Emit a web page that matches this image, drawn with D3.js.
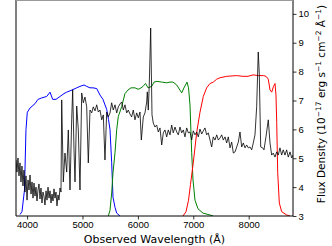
<!DOCTYPE html>
<html lang="en">
<head>
  <meta charset="UTF-8" />
  <title>Spectrum with filter curves</title>
  <script src="https://d3js.org/d3.v7.min.js"></script>
  <style>
    body { margin: 0; background: #fff; }
    svg { display: block; font-family: 'DejaVu Sans', sans-serif; }
    .tick text { fill: #000; }
  </style>
</head>
<body>
<div id="chart"></div>
<script>
// wavelength (Å) / flux (1e-17 erg s^-1 cm^-2 Å^-1)
const spectrum = [
  [3800,4.94],[3818,4.52],[3836,5.01],[3854,4.39],[3872,4.84],[3890,4.18],[3908,4.73],[3926,4.04],
  [3944,4.59],[3962,3.83],[3980,4.39],[3999,3.55],[4017,4.25],[4035,3.90],[4053,4.42],[4071,3.76],
  [4089,4.18],[4107,3.62],[4125,4.14],[4143,3.69],[4161,4.00],[4179,3.52],[4197,3.90],[4215,4.11],
  [4233,3.59],[4251,3.97],[4269,3.45],[4287,3.83],[4305,3.69],[4323,3.38],[4342,3.87],[4360,3.55],
  [4378,4.00],[4396,3.62],[4414,3.87],[4432,3.45],[4450,3.76],[4468,3.52],[4486,3.94],[4504,3.62],
  [4522,3.83],[4540,3.35],[4558,3.73],[4576,3.55],[4594,3.97],[4612,3.83],[4625,7.02],[4654,4.18],
  [4684,5.18],[4715,4.52],[4744,5.98],[4775,3.90],[4805,6.33],[4823,7.37],[4847,5.29],[4865,4.18],
  [4896,6.81],[4925,5.98],[4955,3.90],[4986,7.26],[5015,6.92],[5045,7.12],[5076,6.78],[5105,4.84],
  [5136,6.67],[5166,6.57],[5195,6.78],[5226,6.64],[5257,6.85],[5286,6.60],[5316,6.67],[5347,6.33],
  [5376,6.50],[5406,4.94],[5437,6.60],[5466,6.43],[5497,6.57],[5527,6.92],[5556,6.67],[5587,6.85],
  [5618,6.57],[5647,6.78],[5677,6.88],[5708,6.95],[5737,6.67],[5767,6.85],[5798,6.57],[5827,6.67],
  [5858,6.53],[5887,6.43],[5917,6.67],[5948,6.33],[5979,6.57],[6008,6.40],[6038,6.60],[6062,5.63],
  [6098,6.43],[6128,6.57],[6159,6.95],[6170,7.30],[6188,6.67],[6206,7.57],[6231,9.51],[6255,6.50],
  [6278,6.22],[6309,6.08],[6340,6.15],[6368,5.91],[6399,6.05],[6430,5.46],[6459,5.88],[6489,5.98],
  [6520,5.74],[6549,5.98],[6580,5.81],[6610,6.15],[6639,5.88],[6670,6.08],[6701,5.91],[6730,5.81],
  [6760,6.08],[6791,5.88],[6820,5.98],[6850,5.74],[6881,6.05],[6910,5.88],[6941,5.91],[6971,5.63],
  [7000,5.95],[7031,5.81],[7062,5.91],[7091,5.74],[7121,6.01],[7152,5.84],[7181,5.95],[7211,6.05],
  [7242,5.81],[7271,5.88],[7302,5.63],[7332,5.39],[7361,5.74],[7392,5.63],[7423,5.81],[7452,5.63],
  [7482,5.70],[7513,5.81],[7542,5.63],[7573,5.74],[7603,5.53],[7632,5.74],[7663,5.36],[7693,5.56],
  [7723,5.18],[7754,5.22],[7784,5.39],[7813,5.56],[7843,5.91],[7874,5.39],[7903,5.53],[7934,5.36],
  [7964,5.46],[7993,5.36],[8024,5.39],[8054,5.29],[8083,5.53],[8114,5.81],[8144,6.78],[8173,8.68],
  [8191,7.95],[8217,5.39],[8253,5.36],[8276,5.29],[8312,5.74],[8354,6.33],[8385,5.53],[8415,5.11],
  [8444,5.18],[8475,5.04],[8506,5.22],[8534,5.11],[8565,5.36],[8595,5.11],[8624,5.29],[8655,5.11],
  [8685,5.29],[8715,5.04],[8746,5.22],[8777,5.01],[8800,5.11]
];

// filter transmission curves (arbitrary units)
const blueFilter = [
  [3872,0.01],[3908,0.03],[3953,0.18],[3980,0.60],[4004,0.72],[4053,0.75],[4143,0.78],[4197,0.81],
  [4264,0.82],[4354,0.83],[4414,0.86],[4462,0.81],[4522,0.81],[4594,0.83],[4666,0.85],[4715,0.86],
  [4811,0.875],[4896,0.89],[4955,0.90],[5027,0.91],[5076,0.90],[5136,0.89],[5190,0.89],[5257,0.885],
  [5316,0.84],[5370,0.81],[5437,0.74],[5470,0.67],[5497,0.60],[5527,0.37],[5551,0.13],[5587,0.06],
  [5618,0.02],[5677,0.0]
];
const greenFilter = [
  [5466,0.0],[5497,0.04],[5527,0.16],[5551,0.30],[5587,0.44],[5618,0.60],[5646,0.69],[5708,0.76],
  [5767,0.85],[5822,0.875],[5876,0.89],[5948,0.89],[6002,0.88],[6038,0.885],[6092,0.90],[6138,0.92],
  [6183,0.89],[6249,0.90],[6291,0.93],[6345,0.935],[6430,0.93],[6520,0.925],[6580,0.93],[6634,0.93],
  [6701,0.91],[6791,0.855],[6832,0.89],[6887,0.93],[6914,0.89],[6941,0.77],[6971,0.44],[6995,0.25],
  [7031,0.11],[7085,0.05],[7175,0.02],[7302,0.007],[7356,0.0]
];
const redFilter = [
  [6814,0.0],[6869,0.03],[6914,0.11],[6950,0.22],[7000,0.37],[7062,0.58],[7121,0.72],[7181,0.83],
  [7242,0.89],[7302,0.92],[7361,0.93],[7423,0.95],[7482,0.96],[7603,0.97],[7784,0.975],[7897,0.97],
  [7988,0.97],[8078,0.98],[8174,0.975],[8265,0.975],[8313,0.97],[8354,0.95],[8385,0.875],[8416,0.86],
  [8448,0.90],[8475,0.92],[8493,0.84],[8506,0.65],[8524,0.30],[8553,0.09],[8596,0.03],[8686,0.007],
  [8746,0.0]
];

const xTicks = [4000, 5000, 6000, 7000, 8000];
const yTicks = [3, 4, 5, 6, 7, 8, 9, 10];

const W = 332, H = 246;
const margin = { top: 0, right: 39, bottom: 30, left: 16 };
const width = W - margin.left - margin.right,
      height = H - margin.top - margin.bottom;

const svg = d3.select("#chart").append("svg")
  .attr("width", W)
  .attr("height", H);

const g = svg.append("g")
  .attr("transform", `translate(${margin.left},${margin.top})`);

const x = d3.scaleLinear().domain([3800, 8800]).range([0, width]);
const y = d3.scaleLinear().domain([3, 10.48]).range([height, 0]);
const yf = d3.scaleLinear().domain([0, 1.5]).range([height, 0]);

g.append("clipPath").attr("id", "clip")
  .append("rect").attr("width", width).attr("height", height);

const plot = g.append("g").attr("clip-path", "url(#clip)");

const filterLine = d3.line().x(d => x(d[0])).y(d => yf(d[1]));
[[blueFilter, "#0000ff"], [greenFilter, "#008000"], [redFilter, "#ff0000"]].forEach(([data, c]) => {
  plot.append("path")
    .datum(data)
    .attr("fill", "none")
    .attr("stroke", c)
    .attr("stroke-width", 1)
    .attr("d", filterLine);
});

plot.append("path")
  .datum(spectrum)
  .attr("fill", "none")
  .attr("stroke", "#000")
  .attr("stroke-width", 0.8)
  .attr("stroke-linejoin", "round")
  .attr("d", d3.line().x(d => x(d[0])).y(d => y(d[1])));

// axes
const xAxis = g.append("g")
  .attr("transform", `translate(0,${height})`)
  .call(d3.axisBottom(x).tickValues(xTicks).tickSize(3.5).tickPadding(2).tickFormat(d3.format("d")));
xAxis.selectAll("text").style("font-size", "9.5px");

const yAxis = g.append("g")
  .attr("transform", `translate(${width},0)`)
  .call(d3.axisRight(y).tickValues(yTicks).tickSize(3.5).tickPadding(2).tickFormat(d3.format("d")));
yAxis.selectAll("text").style("font-size", "9.5px");

[xAxis, yAxis].forEach(a => {
  a.select(".domain").remove();
  a.selectAll("line").attr("stroke", "#000").attr("stroke-width", 0.8);
});

// spines
g.append("line").attr("x1", 0).attr("x2", 0).attr("y1", 0).attr("y2", height)
  .attr("stroke", "#000").attr("stroke-width", 1);
g.append("line").attr("x1", 0).attr("x2", width).attr("y1", height).attr("y2", height)
  .attr("stroke", "#000").attr("stroke-width", 1);
g.append("line").attr("x1", width).attr("x2", width).attr("y1", 0).attr("y2", height)
  .attr("stroke", "#000").attr("stroke-width", 1);
g.append("line").attr("x1", 0).attr("x2", width).attr("y1", 0.5).attr("y2", 0.5)
  .attr("stroke", "#999").attr("stroke-width", 1);

// labels
g.append("text")
  .attr("x", width / 2)
  .attr("y", height + 27)
  .attr("text-anchor", "middle")
  .style("font-size", "11px")
  .text("Observed Wavelength (Å)");

const yl = g.append("text")
  .attr("transform", `translate(${width + 32},${height / 2 - 4}) rotate(-90)`)
  .attr("text-anchor", "middle")
  .style("font-size", "10.5px");
const parts = [["Flux Density (10", false], ["−17", true], [" erg s", false], ["−1", true],
               [" cm", false], ["−2", true], [" Å", false], ["−1", true], [")", false]];
parts.forEach(([t, sup], i) => {
  const ts = yl.append("tspan").text(t);
  if (sup) ts.attr("dy", -4).style("font-size", "7.5px");
  else if (i > 0 && parts[i - 1][1]) ts.attr("dy", 4);
});
</script>
</body>
</html>
